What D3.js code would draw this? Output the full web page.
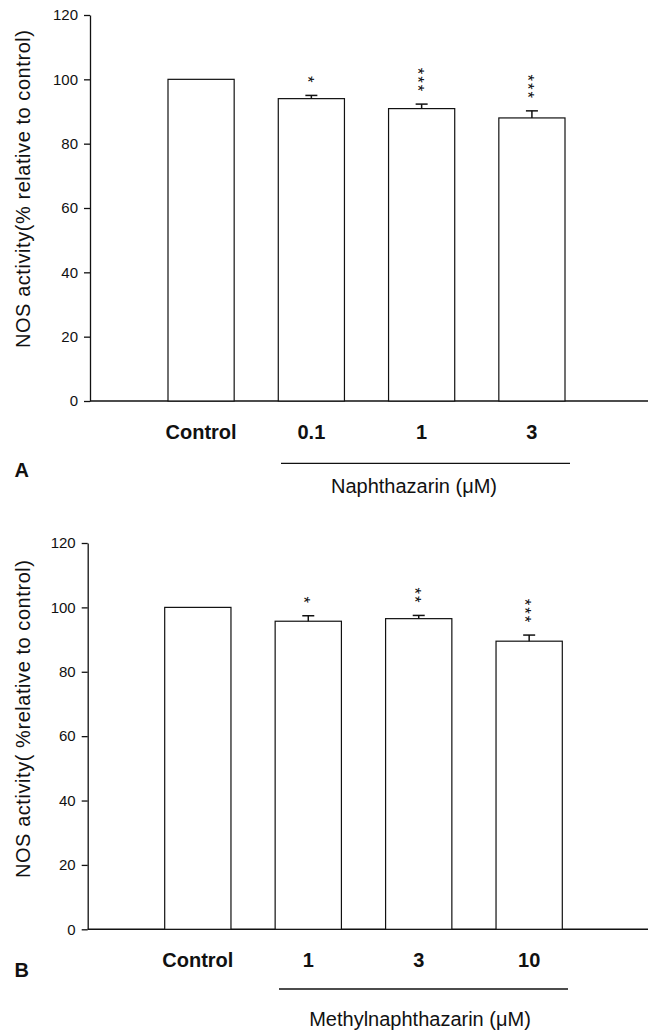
<!DOCTYPE html>
<html>
<head>
<meta charset="utf-8">
<script src="https://cdn.jsdelivr.net/npm/d3@7"></script>
<style>
  body { margin: 0; background: #fff; }
  text { font-family: "Liberation Sans", Arial, Helvetica, sans-serif; fill: #111; }
</style>
</head>
<body>
<div id="chart"></div>
<script>
// values (mean % of control, SEM, significance stars)
var yTicks = [0, 20, 40, 60, 80, 100, 120];

var catsA = ["Control", "0.1", "1", "3"];
var meansA = [100, 94.0, 90.9, 88.0];
var errsA = [0, 1.0, 1.4, 2.2];
var starsA = [0, 1, 3, 3];

var catsB = ["Control", "1", "3", "10"];
var meansB = [100, 95.7, 96.5, 89.5];
var errsB = [0, 1.7, 1.0, 1.9];
var starsB = [0, 1, 2, 3];

var W = 648, H = 1032;

var svg = d3.select("#chart")
  .append("svg")
    .attr("width", W)
    .attr("height", H);

// draws one panel
function drawPanel(p) {
  var g = svg.append("g");

  var y = d3.scaleLinear()
    .domain([0, 120])
    .range([p.yBottom, p.yTop]);

  var x = d3.scaleBand()
    .domain(p.cats)
    .range([p.barStart, p.barEnd])
    .paddingInner(0.4)
    .paddingOuter(0);

  // y axis
  var yAxis = g.append("g")
    .attr("transform", "translate(" + p.axisX + ",0)")
    .call(d3.axisLeft(y).tickValues(yTicks).tickSize(6).tickSizeOuter(0).tickPadding(6));
  yAxis.selectAll("path, line").attr("stroke", "#111").attr("stroke-width", 1.3);
  yAxis.selectAll("text").attr("font-size", 15).attr("fill", "#111")
    .style("font-family", "'Liberation Sans', Arial, sans-serif");

  // baseline runs to the right edge
  g.append("line")
    .attr("x1", p.axisX).attr("x2", W)
    .attr("y1", y(0)).attr("y2", y(0))
    .attr("stroke", "#111").attr("stroke-width", 1.5);

  var rows = p.cats.map(function(c, i) {
    return {cat: c, mean: p.means[i], err: p.errs[i], stars: p.stars[i]};
  });

  // bars
  g.selectAll("rect.bar")
    .data(rows)
    .enter()
    .append("rect")
      .attr("class", "bar")
      .attr("x", function(d) { return x(d.cat); })
      .attr("y", function(d) { return y(d.mean); })
      .attr("width", x.bandwidth())
      .attr("height", function(d) { return y(0) - y(d.mean); })
      .attr("fill", "#fff")
      .attr("stroke", "#111")
      .attr("stroke-width", 1.2);

  // error bars (upper half only)
  var withErr = rows.filter(function(d) { return d.err > 0; });
  var cx = function(d) { return x(d.cat) + x.bandwidth() / 2; };

  g.selectAll("line.err")
    .data(withErr)
    .enter()
    .append("line")
      .attr("class", "err")
      .attr("x1", cx).attr("x2", cx)
      .attr("y1", function(d) { return y(d.mean); })
      .attr("y2", function(d) { return y(d.mean + d.err); })
      .attr("stroke", "#111").attr("stroke-width", 1.5);

  g.selectAll("line.cap")
    .data(withErr)
    .enter()
    .append("line")
      .attr("class", "cap")
      .attr("x1", function(d) { return cx(d) - 6; })
      .attr("x2", function(d) { return cx(d) + 6; })
      .attr("y1", function(d) { return y(d.mean + d.err); })
      .attr("y2", function(d) { return y(d.mean + d.err); })
      .attr("stroke", "#111").attr("stroke-width", 1.5);

  // asterisks, stacked by writing them sideways
  var starFs = 17;
  g.selectAll("text.stars")
    .data(rows.filter(function(d) { return d.stars > 0; }))
    .enter()
    .append("text")
      .attr("class", "stars")
      .attr("transform", function(d) {
        var topCy = y(d.mean + d.err) - 16 - (d.stars - 1) * 8.5;
        return "translate(" + (cx(d) - 0.58 * starFs) + "," + (topCy - 0.195 * starFs) + ") rotate(90)";
      })
      .attr("font-size", starFs)
      .attr("letter-spacing", 8.5 - 0.389 * starFs)
      .text(function(d) { return "***".slice(0, d.stars); });

  // category labels
  var xAxis = g.append("g")
    .attr("transform", "translate(0," + y(0) + ")")
    .call(d3.axisBottom(x).tickSize(0));
  xAxis.select(".domain").remove();
  xAxis.selectAll("text")
    .attr("y", p.labelDy).attr("dy", 0)
    .attr("font-size", 20).attr("font-weight", "bold").attr("fill", "#111")
    .style("font-family", "'Liberation Sans', Arial, sans-serif");

  // y title
  g.append("text")
    .attr("transform", "translate(29.5," + p.titleY + ") rotate(-90)")
    .attr("text-anchor", "middle")
    .attr("font-size", 20)
    .attr("textLength", 318)
    .attr("lengthAdjust", "spacing")
    .text(p.yTitle);

  // panel letter
  g.append("text")
    .attr("x", 14.5).attr("y", p.letterY)
    .attr("font-size", 20).attr("font-weight", "bold")
    .text(p.letter);

  // treatment bracket
  g.append("line")
    .attr("x1", p.lineX[0]).attr("x2", p.lineX[1])
    .attr("y1", p.lineY).attr("y2", p.lineY)
    .attr("stroke", "#111").attr("stroke-width", 1.3);

  g.append("text")
    .attr("x", p.drugX).attr("y", p.drugY)
    .attr("text-anchor", "middle")
    .attr("font-size", 20)
    .text(p.drug);
}

drawPanel({
  cats: catsA, means: meansA, errs: errsA, stars: starsA,
  yTop: 15, yBottom: 401, axisX: 90, barStart: 168, barEnd: 565,
  labelDy: 38.3, titleY: 189,
  yTitle: "NOS activity(% relative to control)",
  letter: "A", letterY: 476.7,
  lineX: [281, 570], lineY: 463.3,
  drug: "Naphthazarin (\u03BCM)", drugX: 414, drugY: 493
});

drawPanel({
  cats: catsB, means: meansB, errs: errsB, stars: starsB,
  yTop: 543, yBottom: 929.3, axisX: 87.7, barStart: 164.7, barEnd: 562.3,
  labelDy: 37.4, titleY: 719,
  yTitle: "NOS activity( %relative to control)",
  letter: "B", letterY: 976.7,
  lineX: [279, 568], lineY: 989,
  drug: "Methylnaphthazarin (\u03BCM)", drugX: 420, drugY: 1025.5
});
</script>
</body>
</html>
